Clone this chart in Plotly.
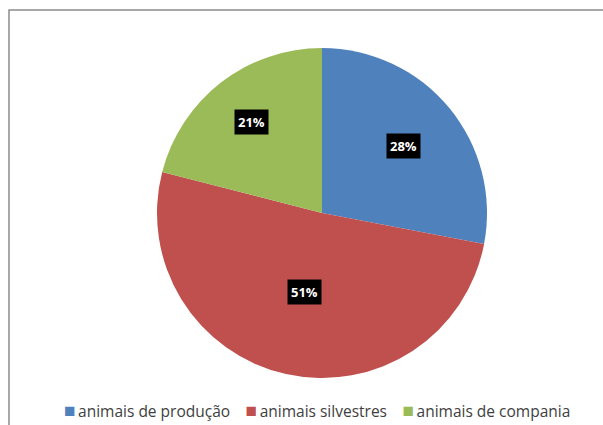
import math
import plotly.graph_objects as go

# Share of cases by animal group
categories = ["animais de produção", "animais silvestres", "animais de compania"]
shares = [28, 51, 21]
colors = ["#4F81BD", "#C0504D", "#9BBB59"]

W, H = 603, 425
# pie placement in pixels
cx_px, cy_px, r_px = 322, 213, 165
label_radius = [0.64, 0.49, 0.70]  # radial position of each label, as fraction of radius

fig = go.Figure(
    go.Pie(
        labels=categories,
        values=shares,
        sort=False,
        direction="clockwise",
        rotation=0,
        marker=dict(colors=colors, line=dict(width=0)),
        textinfo="none",
        hoverinfo="label+percent",
        showlegend=False,
        domain=dict(
            x=[(cx_px - r_px) / W, (cx_px + r_px) / W],
            y=[1 - (cy_px + r_px) / H, 1 - (cy_px - r_px) / H],
        ),
    )
)

# percentage labels on black boxes, placed at each slice's mid-angle
total = sum(shares)
cum = 0
annotations = []
for val, frac in zip(shares, label_radius):
    mid = (cum + val / 2) / total * 2 * math.pi
    cum += val
    px = cx_px + frac * r_px * math.sin(mid)
    py = cy_px - frac * r_px * math.cos(mid)
    annotations.append(
        dict(
            x=px / W, y=1 - py / H, xref="paper", yref="paper",
            xanchor="center", yanchor="middle",
            text=f"<b>{round(val / total * 100)}%</b>",
            showarrow=False,
            font=dict(family="Open Sans", size=13, color="white"),
            bgcolor="black",
            borderpad=3,
        )
    )

# compact legend line: coloured square followed by the category name
legend_text = "\u2003".join(
    f"<span style='color:{c};font-size:19px'>\u25A0</span>\u2009{cat}"
    for cat, c in zip(categories, colors)
)
annotations.append(
    dict(
        x=317 / W, y=1 - 410 / H, xref="paper", yref="paper",
        xanchor="center", yanchor="middle",
        text=legend_text,
        showarrow=False,
        font=dict(family="Open Sans", size=15.5, color="#404040"),
    )
)

fig.update_layout(
    width=W, height=H,
    margin=dict(l=0, r=0, t=0, b=0),
    paper_bgcolor="white",
    plot_bgcolor="white",
    annotations=annotations,
    shapes=[
        dict(
            type="rect", xref="paper", yref="paper",
            x0=9 / W, x1=1.02, y0=-0.02, y1=1 - 10 / H,
            line=dict(color="#8C8C8C", width=1.5),
            fillcolor="rgba(0,0,0,0)",
            layer="below",
        )
    ],
)

fig.write_html("out.html")
